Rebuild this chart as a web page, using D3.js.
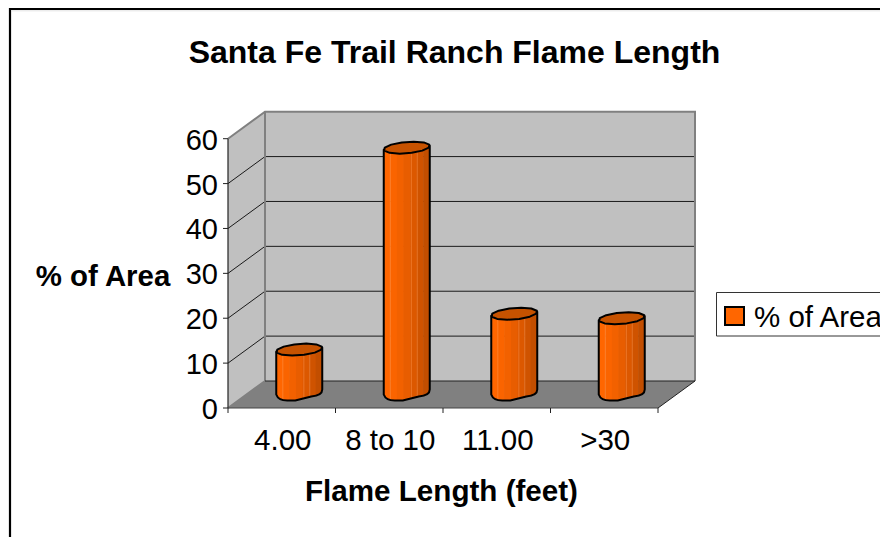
<!DOCTYPE html>
<html><head><meta charset="utf-8">
<script src="https://cdn.jsdelivr.net/npm/d3@7"></script>
<style>html,body{margin:0;padding:0;background:#fff;overflow:hidden}svg{display:block}text{font-family:"Liberation Sans",Arial,sans-serif;fill:#000}</style>
</head><body><script>
const chartTitle = "Santa Fe Trail Ranch Flame Length";
const xTitle = "Flame Length (feet)";
const yTitle = "% of Area";
const seriesName = "% of Area";
const categories = ["4.00", "8 to 10", "11.00", ">30"];
const values = [10, 55, 18, 17];
const yTicks = [0, 10, 20, 30, 40, 50, 60];

const svg = d3.select("body").append("svg").attr("width", 880).attr("height", 537);
const x = d3.scaleBand().domain(categories).range([228, 658]);
const y = d3.scaleLinear().domain([0, 60]).range([408, 138.7]);
const dx = 37, dy = -27;
const line = d3.line(), closed = d3.line().curve(d3.curveLinearClosed);

// frame
svg.append("path").attr("d", "M10,537V9H880").attr("fill", "none").attr("stroke", "#000").attr("stroke-width", 2.2);
svg.append("line").attr("x1",11).attr("x2",880).attr("y1",10.8).attr("y2",10.8).attr("stroke","#ddd").attr("stroke-width",.8);

// walls
const [x0, x1] = x.range();
const y0 = y(0), yT = y(60);
svg.append("path").attr("d", line([[x0,y0],[x0,yT],[x0+dx,yT+dy],[x0+dx,y0+dy]])+"Z").attr("fill","#c0c0c0");
svg.append("path").attr("d", line([[x0+dx,yT+dy],[x1+dx,yT+dy],[x1+dx,y0+dy],[x0+dx,y0+dy]])+"Z").attr("fill","#c0c0c0");
svg.append("path").attr("d", line([[x0,y0],[x1,y0],[x1+dx,y0+dy],[x0+dx,y0+dy]])+"Z").attr("fill","#808080");

// gridlines
yTicks.forEach(t => {
  const p = y(t);
  if (t > 0 && t < 60) svg.append("path").attr("d", line([[x0,p],[x0+dx,p+dy],[x1+dx,p+dy]])).attr("fill","none").attr("stroke","#1a1a1a").attr("stroke-width",1);
});
svg.append("path").attr("d", line([[x0,yT],[x0+dx,yT+dy],[x1+dx,yT+dy],[x1+dx,y0+dy]])).attr("fill","none").attr("stroke","#808080").attr("stroke-width",2);
svg.append("path").attr("d", line([[x0+dx,yT+dy],[x0+dx,y0+dy],[x0,y0]])).attr("fill","none").attr("stroke","#808080").attr("stroke-width",2);
svg.append("path").attr("d", line([[x0+dx,y0+dy],[x1+dx,y0+dy]])).attr("stroke","#222").attr("stroke-width",1);
svg.append("path").attr("d", line([[x1,y0],[x1+dx,y0+dy]])).attr("stroke","#222").attr("stroke-width",1);

// axes
svg.append("line").attr("x1",x0).attr("x2",x0).attr("y1",yT).attr("y2",y0).attr("stroke","#222").attr("stroke-width",1.2);
svg.append("line").attr("x1",x0).attr("x2",x1).attr("y1",y0).attr("y2",y0).attr("stroke","#444").attr("stroke-width",1.2);
yTicks.forEach(t => {
  svg.append("line").attr("x1",x0-5).attr("x2",x0).attr("y1",y(t)).attr("y2",y(t)).attr("stroke","#222");
  svg.append("text").attr("x",218).attr("y",y(t)+11).attr("text-anchor","end").attr("font-size",29).text(t);
});
categories.forEach((c,i) => {
  svg.append("line").attr("x1",x(c)).attr("x2",x(c)).attr("y1",y0).attr("y2",y0+5).attr("stroke","#222");
  svg.append("text").attr("x",x(c)+x.bandwidth()/2+1).attr("y",450).attr("text-anchor","middle").attr("font-size",29.5).text(c);
});
svg.append("line").attr("x1",x1).attr("x2",x1).attr("y1",y0).attr("y2",y0+5).attr("stroke","#222");

// bars: low-poly cylinders at mid depth
const sides = 12, rx = 22, skew = 7, ry = 6;
const shades = ["#ff6600","#fa6400","#f26100","#e85d00","#dc5800","#cf5300","#c24e00"];
function ring(cx, cy){
  return d3.range(sides).map(k => {
    const a = k/sides*2*Math.PI;
    return [cx + rx*Math.cos(a) + skew*Math.sin(a), cy - ry*Math.sin(a)];
  });
}
values.forEach((v,i) => {
  const c = categories[i];
  const cx = x(c) + x.bandwidth()/2 + dx/2 - 1;
  const base = y(0) + dy/2, top = y(v) + dy/2;
  const g = svg.append("g");
  const xl = cx - 23, xr = cx + 23;
  const id = "clip"+i;
  const body = `M${xl},${top+2}L${xl},${base}Q${xl+2},${base+6} ${cx-12},${base+6}L${cx-4},${base+6}L${cx+4},${base+4}L${cx+12},${base+2}Q${xr},${base+1} ${xr},${base-5}L${xr},${top-2}Z`;
  g.append("clipPath").attr("id",id).append("path").attr("d",body);
  const gb = g.append("g").attr("clip-path",`url(#${id})`);
  const w = (xr-xl)/shades.length;
  shades.forEach((s,k) => gb.append("rect").attr("x",xl+k*w).attr("y",top-10).attr("width",w+.5).attr("height",base-top+20).attr("fill",s));
  [1,4.2,5.1].forEach(k => gb.append("line").attr("x1",xl+k*w).attr("x2",xl+k*w).attr("y1",top).attr("y2",base+6).attr("stroke","#ff9a55").attr("stroke-opacity",.6).attr("stroke-width",.8));
  g.append("path").attr("d",body).attr("fill","none").attr("stroke","#000").attr("stroke-width",2).attr("stroke-linejoin","round");
  g.append("path").attr("d",closed(ring(cx,top))).attr("fill","#c65200").attr("stroke","#000").attr("stroke-width",2).attr("stroke-linejoin","round");
});

// titles
svg.append("text").attr("x",454.5).attr("y",63).attr("text-anchor","middle").attr("font-size",32).attr("font-weight","bold").text(chartTitle);
svg.append("text").attr("x",441.5).attr("y",501).attr("text-anchor","middle").attr("font-size",29.6).attr("font-weight","bold").text(xTitle);
svg.append("text").attr("x",103).attr("y",286).attr("text-anchor","middle").attr("font-size",29.4).attr("font-weight","bold").text(yTitle);

// legend
svg.append("path").attr("d","M885,292.5H716.5V336H885").attr("fill","#fff").attr("stroke","#333").attr("stroke-width",1);
svg.append("rect").attr("x",725).attr("y",307).attr("width",19).attr("height",18).attr("fill","#ff6600").attr("stroke","#000").attr("stroke-width",2);
svg.append("text").attr("x",754).attr("y",327).attr("font-size",29.5).text(seriesName);
</script></body></html>
